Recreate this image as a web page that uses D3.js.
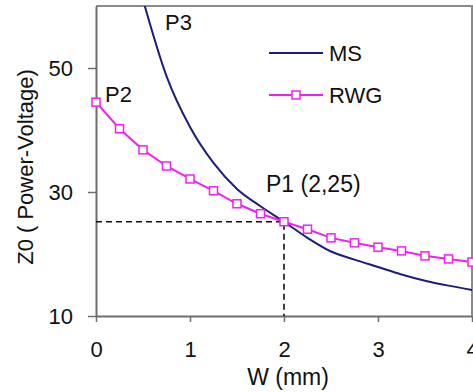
<!DOCTYPE html>
<html>
<head>
<meta charset="utf-8">
<script src="https://cdn.jsdelivr.net/npm/d3@7"></script>
<style>
  body { margin: 0; background: #fff; }
  svg text { font-family: "Liberation Sans", Arial, sans-serif; fill: #111; }
</style>
</head>
<body>
<div id="chart"></div>
<script>
var msX = [0.5, 0.75, 1, 1.25, 1.5, 1.75, 2, 2.25, 2.5, 2.75, 3, 3.25, 3.5, 3.75, 4];
var msY = [61, 48.7, 40.5, 34.7, 30.5, 27.7, 25.2, 22.6, 20.4, 19.1, 17.9, 16.7, 15.7, 14.9, 14.2];

var rwgX = [0, 0.25, 0.5, 0.75, 1, 1.25, 1.5, 1.75, 2, 2.25, 2.5, 2.75, 3, 3.25, 3.5, 3.75, 4];
var rwgY = [44.5, 40.2, 36.8, 34.2, 32.1, 30.2, 28.1, 26.5, 25.2, 24.0, 22.6, 21.8, 21.1, 20.5, 19.7, 19.2, 18.7];

var xTicks = [0, 1, 2, 3, 4];
var yTicks = [10, 30, 50];
var p1 = [2, 25.2];

var width = 473, height = 392;
var mLeft = 96, mRight = 472, mTop = 6, mBottom = 316;

var svg = d3.select("#chart").append("svg")
    .attr("width", width)
    .attr("height", height);

var xScale = d3.scaleLinear().domain([0, 4]).range([mLeft, mRight]);
var yScale = d3.scaleLinear().domain([10, 60]).range([mBottom, mTop]);

svg.append("clipPath").attr("id", "clip")
  .append("rect")
    .attr("x", mLeft).attr("y", mTop)
    .attr("width", mRight - mLeft).attr("height", mBottom - mTop);

// frame (top + right)
svg.append("path")
    .attr("d", "M" + mLeft + "," + mTop + "H" + mRight + "V" + mBottom)
    .attr("fill", "none")
    .attr("stroke", "#8a8a8a")
    .attr("stroke-width", 2);

// axes
var xAxis = svg.append("g")
    .attr("transform", "translate(0," + mBottom + ")")
    .call(d3.axisBottom(xScale).tickValues(xTicks).tickFormat(d3.format("d"))
      .tickSize(6).tickPadding(19).tickSizeOuter(0));
var yAxis = svg.append("g")
    .attr("transform", "translate(" + mLeft + ",0)")
    .call(d3.axisLeft(yScale).tickValues(yTicks).tickFormat(d3.format("d"))
      .tickSize(8).tickPadding(15).tickSizeOuter(0));

[xAxis, yAxis].forEach(function (a) {
  a.select(".domain").attr("stroke", "#6e6e6e").attr("stroke-width", 2);
  a.selectAll(".tick line").attr("stroke", "#6e6e6e").attr("stroke-width", 1.5);
  a.selectAll(".tick text")
      .attr("font-size", 22)
      .attr("font-family", "Liberation Sans, Arial, sans-serif")
      .attr("fill", "#111");
});

// dashed guides to P1
svg.append("path")
    .attr("d", "M" + mLeft + "," + yScale(p1[1]) + "H" + xScale(p1[0]) + "V" + mBottom)
    .attr("fill", "none")
    .attr("stroke", "#111")
    .attr("stroke-width", 1.6)
    .attr("stroke-dasharray", "6,4");

var plot = svg.append("g").attr("clip-path", "url(#clip)");

var line = d3.line()
    .x(function (d) { return xScale(d[0]); })
    .y(function (d) { return yScale(d[1]); })
    .curve(d3.curveMonotoneX);

var msData = d3.zip(msX, msY);
var rwgData = d3.zip(rwgX, rwgY);

plot.append("path")
    .attr("d", line(msData))
    .attr("fill", "none")
    .attr("stroke", "#1c1c7c")
    .attr("stroke-width", 2);

plot.append("path")
    .attr("d", line.curve(d3.curveLinear)(rwgData))
    .attr("fill", "none")
    .attr("stroke", "#ee22ee")
    .attr("stroke-width", 2);

svg.selectAll(".rwg-pt")
    .data(rwgData)
  .enter().append("rect")
    .attr("class", "rwg-pt")
    .attr("x", function (d) { return xScale(d[0]) - 4; })
    .attr("y", function (d) { return yScale(d[1]) - 4; })
    .attr("width", 8).attr("height", 8)
    .attr("fill", "#fff")
    .attr("stroke", "#ee22ee")
    .attr("stroke-width", 1.5);

// legend
var legend = svg.append("g");
legend.append("line")
    .attr("x1", 269).attr("x2", 323).attr("y1", 53).attr("y2", 53)
    .attr("stroke", "#1c1c7c").attr("stroke-width", 2);
legend.append("text").attr("x", 329).attr("y", 61).attr("font-size", 22).text("MS");
legend.append("line")
    .attr("x1", 269).attr("x2", 323).attr("y1", 95).attr("y2", 95)
    .attr("stroke", "#ee22ee").attr("stroke-width", 2);
legend.append("rect")
    .attr("x", 292).attr("y", 91).attr("width", 8).attr("height", 8)
    .attr("fill", "#fff").attr("stroke", "#ee22ee").attr("stroke-width", 1.5);
legend.append("text").attr("x", 329).attr("y", 103).attr("font-size", 22).text("RWG");

// annotations
svg.append("text").attr("x", 165).attr("y", 30).attr("font-size", 22).text("P3");
svg.append("text").attr("x", 105).attr("y", 102).attr("font-size", 22).text("P2");
svg.append("text").attr("x", 266).attr("y", 192).attr("font-size", 23).text("P1 (2,25)");

// axis titles
svg.append("text")
    .attr("x", 288).attr("y", 385)
    .attr("text-anchor", "middle").attr("font-size", 23)
    .text("W (mm)");
svg.append("text")
    .attr("transform", "translate(33,167) rotate(-90)")
    .attr("text-anchor", "middle").attr("font-size", 22)
    .text("Z0 ( Power-Voltage)");
</script>
</body>
</html>
